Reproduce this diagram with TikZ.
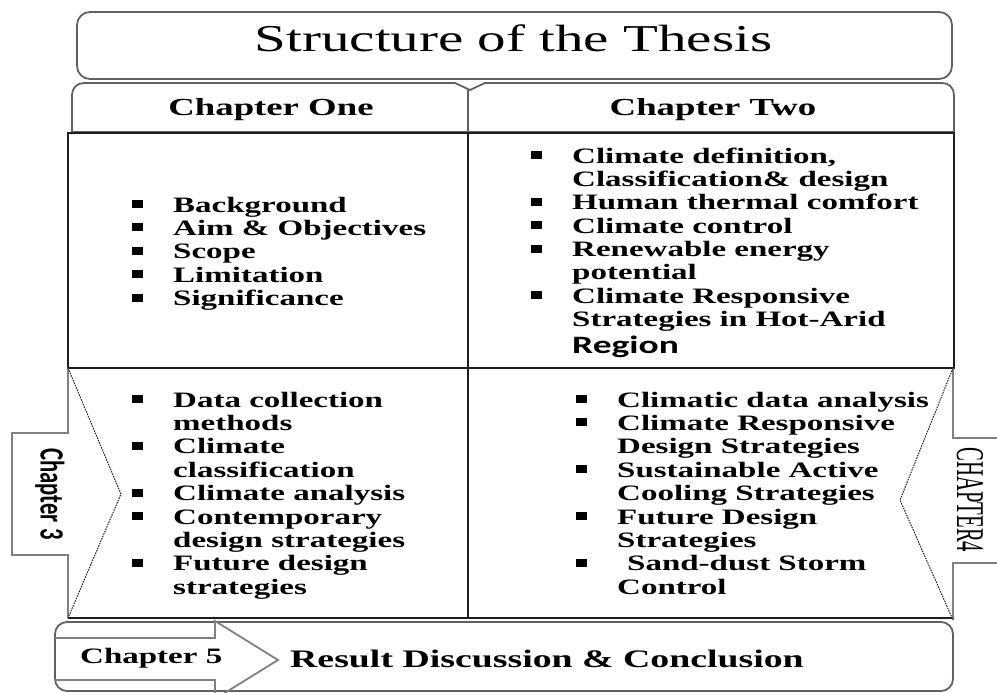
\documentclass[tikz,border=0pt]{standalone}
\usepackage{graphicx}
\usepackage{fontspec}
\setmainfont{Liberation Serif}[FakeStretch=1.5]
\newfontfamily\plainserif{Liberation Serif}
\newfontfamily\calibriwide{Carlito}[FakeStretch=1.5]
\newfontfamily\calibriplain{Carlito}

% bullet lists: square bullet, fixed gap, fixed line pitch
\newlength\bulletgap \setlength\bulletgap{41pt}
\newcommand\bitem[1]{\hbox{\rlap{\rule[4pt]{11pt}{8pt}}\kern\bulletgap #1}}
\newcommand\citem[1]{\hbox{\kern\bulletgap #1}}
\newcommand\blist[1]{\vtop{\baselineskip=23.4pt\lineskiplimit=-30pt\lineskip=0pt #1}}

\begin{document}
\begin{tikzpicture}[x=1pt,y=-1pt,
  greyline/.style={draw=black!62, line width=1.8pt, line join=round},
  tabline/.style={draw=black!50, line width=1.8pt},
  gridline/.style={draw=black!88, line width=1.3pt},
  dotline/.style={draw=black!85, line width=1pt, dash pattern=on 1.6pt off 1pt},
  titletext/.style={inner sep=0pt, font=\fontsize{38}{40}\selectfont},
  headtext/.style={anchor=base, inner sep=0pt, font=\fontsize{24.5}{26}\selectfont\bfseries},
  listtext/.style={anchor=base west, inner sep=0pt, font=\fontsize{22}{23.4}\selectfont\bfseries},
  sidetext/.style={inner sep=0pt, rotate=-90}]
\useasboundingbox (0,0) rectangle (997,693);
\clip (0,0) rectangle (997,693);

% title banner
\draw[greyline, rounded corners=13pt] (77,12) rectangle (952,79);
\node[titletext, anchor=base] (title) at (513.5,52) {Structure of the Thesis};

% chapter header strip with the small notch under the banner
\draw[greyline] (72,132) -- (72,95) .. controls (72,88) and (77,83) .. (84,83)
  -- (455,83) -- (470,90) -- (485,83) -- (942,83)
  .. controls (949,83) and (954,88) .. (954,95) -- (954,132) -- cycle;
\draw[greyline] (468,90) -- (468,132);
\node[headtext] (chone) at (271,115) {Chapter One};
\node[headtext] (chtwo) at (713,115) {Chapter Two};

% content grid
\draw[gridline] (68,133) rectangle (954,368);
\draw[gridline] (468,133) -- (468,618);
\draw[gridline] (68,368) -- (953,368);
\draw[gridline] (68,618) -- (953,618);

% chapter 3 arrow on the left
\draw[tabline] (68,368) -- (68,433) -- (12,433) -- (12,555) -- (68,555) -- (68,618);
\draw[dotline] (68,368) -- (121,494) -- (68,618);
\node[sidetext] (chthree) at (50,494)
  {\scalebox{1}[1.5]{\calibriplain\bfseries\fontsize{22.7}{24}\selectfont Chapter 3}};

% chapter 4 arrow on the right
\draw[tabline] (953,368) -- (953,438) -- (1000,438);
\draw[tabline] (1000,563) -- (953,563) -- (953,620);
\draw[dotline] (953,368) -- (900,500) -- (953,620);
\node[sidetext] (chfour) at (970,500)
  {\scalebox{1}[1.9]{\plainserif\fontsize{20.7}{22}\selectfont CHAPTER4}};

% bottom bar with the chapter 5 arrow
\draw[greyline, rounded corners=12pt] (55,622) rectangle (953,691);
\draw[tabline] (55,638) -- (215,638) -- (215,621) -- (278,660) -- (215,699)
  -- (215,680) -- (55,680);
\node[listtext] (chfive) at (80,663) {Chapter 5};
\node[anchor=base west, inner sep=0pt, font=\fontsize{25.2}{27}\selectfont\bfseries]
  (result) at (290,667) {Result Discussion \& Conclusion};

% chapter one topics
\node[listtext] (listone) at (132,212) {\blist{%
  \bitem{Background}
  \bitem{Aim \& Objectives}
  \bitem{Scope}
  \bitem{Limitation}
  \bitem{Significance}}};

% chapter two topics
\node[listtext] (listtwo) at (531,163) {\blist{%
  \bitem{Climate definition,}
  \citem{Classification\& design}
  \bitem{Human thermal comfort}
  \bitem{Climate control}
  \bitem{Renewable energy}
  \citem{potential}
  \bitem{Climate Responsive}
  \citem{Strategies in Hot-Arid}
  \kern3.6pt
  \citem{\calibriwide\bfseries\fontsize{25}{26}\selectfont Region}}};

% chapter three topics
\node[listtext] (listthree) at (132,407) {\blist{%
  \bitem{Data collection}
  \citem{methods}
  \bitem{Climate}
  \citem{classification}
  \bitem{Climate analysis}
  \bitem{Contemporary}
  \citem{design strategies}
  \bitem{Future design}
  \citem{strategies}}};

% chapter four topics
\node[listtext] (listfour) at (576,407) {\blist{%
  \bitem{Climatic data analysis}
  \bitem{Climate Responsive}
  \citem{Design Strategies}
  \bitem{Sustainable Active}
  \citem{Cooling Strategies}
  \bitem{Future Design}
  \citem{Strategies}
  \bitem{\kern10pt Sand-dust Storm}
  \citem{Control}}};
\end{tikzpicture}
\end{document}
